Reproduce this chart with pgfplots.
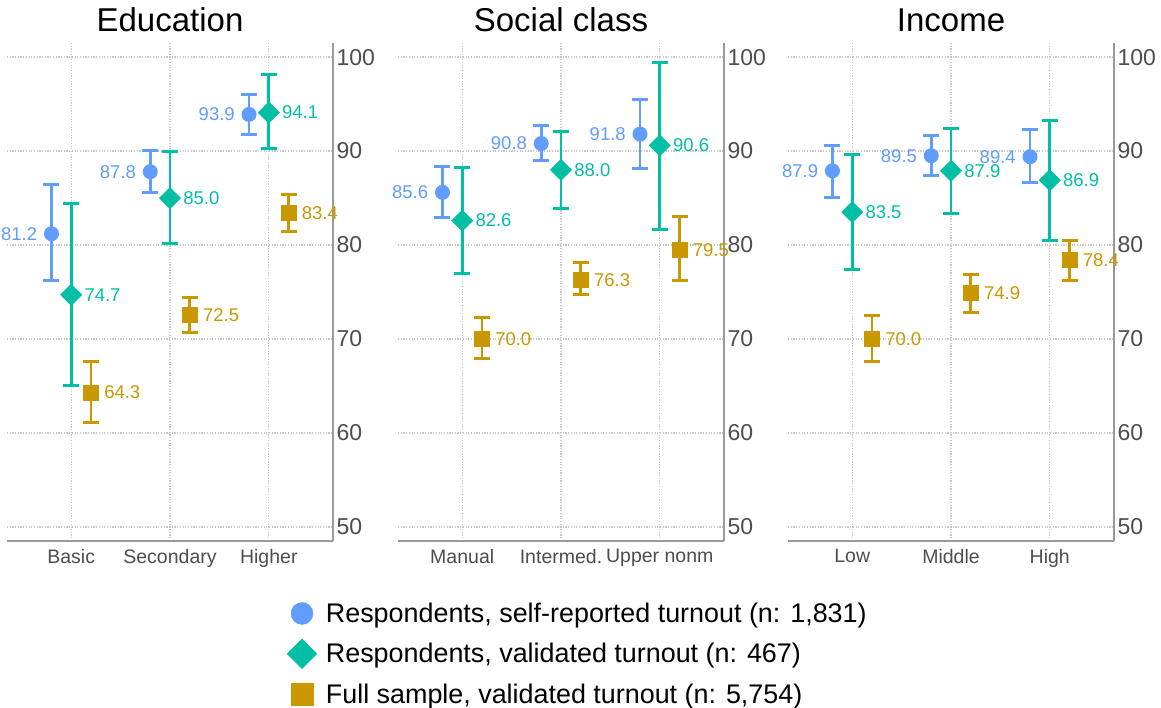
\documentclass[border=0pt]{standalone}
\usepackage{fontspec}
\setmainfont{Liberation Sans}
\usepackage{pgfplots}
\pgfplotsset{compat=1.18}

\definecolor{cblue}{HTML}{619CFF}
\definecolor{cgreen}{HTML}{00BFA5}
\definecolor{cgold}{HTML}{C99800}
\definecolor{axgray}{HTML}{9A9A9A}
\definecolor{txtgray}{HTML}{4D4D4D}
\definecolor{gridgray}{HTML}{C8C8C8}

\pgfdeclareplotmark{thickcap}{%
  \pgfsetlinewidth{3.0pt}%
  \pgfpathmoveto{\pgfqpoint{-\pgfplotmarksize}{0pt}}%
  \pgfpathlineto{\pgfqpoint{\pgfplotmarksize}{0pt}}%
  \pgfusepathqstroke}

\pgfplotsset{
 panel/.style={
  width=326pt, height=498pt, scale only axis,
  xmin=0.35, xmax=3.65, ymin=48.5, ymax=101.5,
  axis x line*=bottom, axis y line*=right,
  axis line style={-, draw=axgray, line width=1.6pt},
  xtick={1,2,3}, ytick={50,60,70,80,90,100},
  major tick length=0pt,
  xmajorgrids, ymajorgrids,
  major grid style={draw=gridgray, line width=1.2pt, dash pattern=on 1.2pt off 1.5pt},
  yticklabel style={font=\fontsize{23}{27}\selectfont, text=txtgray},
  xticklabel style={font=\fontsize{19.5}{23}\selectfont, text=txtgray, yshift=-5pt},
  title style={at={(0.5,1)}, anchor=base, yshift=5pt, font=\fontsize{33}{38}\selectfont},
  clip=false,
  /pgf/number format/assume math mode=true,
 },
 sblue/.style={forget plot, only marks, mark=*, mark size=6.2pt, color=cblue, line width=2.6pt,
  mark options={solid, fill=cblue, draw=cblue},
  point meta=y,
  nodes near coords={\pgfmathprintnumber[fixed, fixed zerofill, precision=1]{\pgfplotspointmeta}},
  every node near coord/.style={anchor=east, xshift=-13pt, inner sep=0pt, font=\fontsize{18.5}{22}\selectfont, text=cblue},
  error bars/.cd, y dir=both, y explicit, error mark=thickcap,
  error bar style={line width=2.9pt, color=cblue},
  error mark options={mark size=8pt, color=cblue, rotate=90},
  /pgfplots/.cd},
 sgreen/.style={forget plot, only marks, mark=square*, mark size=6.5pt, color=cgreen, line width=2.6pt,
  mark options={solid, rotate=45, fill=cgreen, draw=cgreen},
  point meta=y,
  nodes near coords={\pgfmathprintnumber[fixed, fixed zerofill, precision=1]{\pgfplotspointmeta}},
  every node near coord/.style={anchor=west, xshift=12pt, inner sep=0pt, font=\fontsize{18.5}{22}\selectfont, text=cgreen},
  error bars/.cd, y dir=both, y explicit, error mark=thickcap,
  error bar style={line width=2.9pt, color=cgreen},
  error mark options={mark size=8pt, color=cgreen, rotate=90},
  /pgfplots/.cd},
 sgold/.style={forget plot, only marks, mark=square*, mark size=6.7pt, color=cgold, line width=2.6pt,
  mark options={solid, fill=cgold, draw=cgold},
  point meta=y,
  nodes near coords={\pgfmathprintnumber[fixed, fixed zerofill, precision=1]{\pgfplotspointmeta}},
  every node near coord/.style={anchor=west, xshift=12pt, inner sep=0pt, font=\fontsize{18.5}{22}\selectfont, text=cgold},
  error bars/.cd, y dir=both, y explicit, error mark=thickcap,
  error bar style={line width=2.9pt, color=cgold},
  error mark options={mark size=8pt, color=cgold, rotate=90},
  /pgfplots/.cd},
 legimg/.style={legend image code/.code={\draw[##1] plot coordinates {(0pt,0pt)};}},
}

\begin{document}
\begin{tikzpicture}
\useasboundingbox (0,0) rectangle (1161pt,707pt);

% ---------------- Education ----------------
\begin{axis}[panel, at={(7pt,166pt)}, anchor=south west,
  title={Education}, xticklabels={Basic,Secondary,Higher}]
\addplot[sblue] table[x=x, y=y, y error plus=ep, y error minus=em] {
x y ep em
0.8 81.2 5.2 5.0
1.8 87.8 2.3 2.2
2.8 93.9 2.1 2.1
};
\addplot[sgreen] table[x=x, y=y, y error plus=ep, y error minus=em] {
x y ep em
1 74.7 9.7 9.6
2 85.0 4.9 4.8
3 94.1 4.0 3.8
};
\addplot[sgold] table[x=x, y=y, y error plus=ep, y error minus=em] {
x y ep em
1.2 64.3 3.3 3.2
2.2 72.5 1.9 1.8
3.2 83.4 2.0 2.0
};
\end{axis}

% ---------------- Social class ----------------
\begin{axis}[panel, at={(398pt,166pt)}, anchor=south west,
  title={Social class}, xticklabels={Manual,Intermed.,Upper nonm},
  legend style={at={(-0.3405,-0.122)}, anchor=north west, draw=none, fill=none,
    font=\fontsize{26.9}{31}\selectfont, inner sep=0pt, row sep=14pt, column sep=8pt,
    nodes={inner sep=1pt}},
  legend cell align=left]
\addplot[sblue] table[x=x, y=y, y error plus=ep, y error minus=em] {
x y ep em
0.8 85.6 2.8 2.7
1.8 90.8 1.9 1.8
2.8 91.8 3.7 3.7
};
\addplot[sgreen] table[x=x, y=y, y error plus=ep, y error minus=em] {
x y ep em
1 82.6 5.7 5.6
2 88.0 4.1 4.1
3 90.6 8.8 9.0
};
\addplot[sgold] table[x=x, y=y, y error plus=ep, y error minus=em] {
x y ep em
1.2 70.0 2.3 2.1
2.2 76.3 1.8 1.6
3.2 79.5 3.5 3.3
};
\addlegendimage{only marks, mark=*, mark size=11pt, color=cblue, mark options={fill=cblue, draw=cblue}, legimg}
\addlegendentry{Respondents, self-reported turnout (n: 1,831)}
\addlegendimage{only marks, mark=square*, mark size=10.5pt, color=cgreen, mark options={rotate=45, fill=cgreen, draw=cgreen}, legimg}
\addlegendentry{Respondents, validated turnout (n: 467)}
\addlegendimage{only marks, mark=square*, mark size=11pt, color=cgold, mark options={fill=cgold, draw=cgold}, legimg}
\addlegendentry{Full sample, validated turnout (n: 5,754)}
\end{axis}

% ---------------- Income ----------------
\begin{axis}[panel, at={(788pt,166pt)}, anchor=south west,
  title={Income}, xticklabels={Low,Middle,High}]
\addplot[sblue] table[x=x, y=y, y error plus=ep, y error minus=em] {
x y ep em
0.8 87.9 2.7 2.8
1.8 89.5 2.2 2.1
2.8 89.4 2.9 2.8
};
\addplot[sgreen] table[x=x, y=y, y error plus=ep, y error minus=em] {
x y ep em
1 83.5 6.1 6.1
2 87.9 4.5 4.5
3 86.9 6.3 6.4
};
\addplot[sgold] table[x=x, y=y, y error plus=ep, y error minus=em] {
x y ep em
1.2 70.0 2.5 2.4
2.2 74.9 2.0 2.1
3.2 78.4 2.1 2.2
};
\end{axis}
\end{tikzpicture}
\end{document}
